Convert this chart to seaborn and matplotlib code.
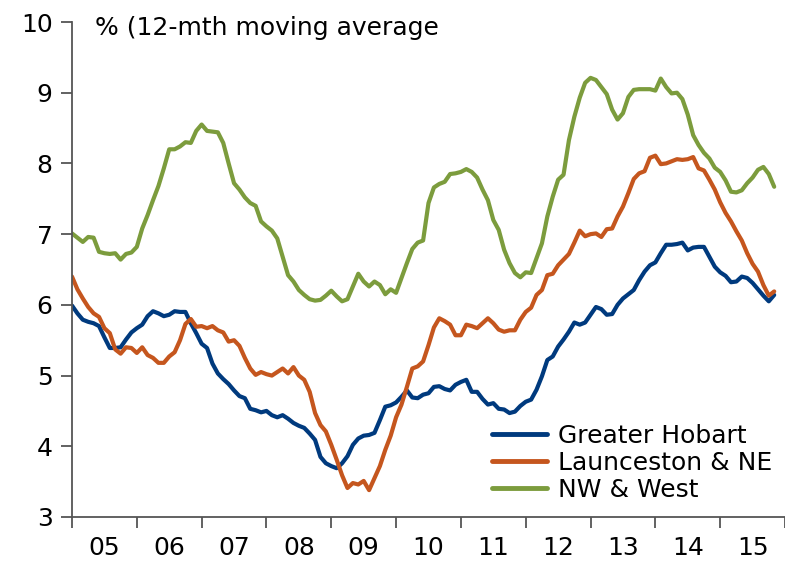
import numpy as np
import pandas as pd
import matplotlib
matplotlib.use("Agg")
import matplotlib.pyplot as plt
import seaborn as sns

# Monthly 12-month moving average unemployment rate (%), Jan 2005 - Nov 2015
start_year = 2005
hobart = [5.99, 5.88, 5.79, 5.76, 5.74, 5.70, 5.54, 5.39, 5.39, 5.40, 5.51, 5.61,
          5.67, 5.72, 5.84, 5.91, 5.88, 5.84, 5.86, 5.91, 5.90, 5.90, 5.74, 5.60,
          5.45, 5.39, 5.17, 5.03, 4.95, 4.88, 4.79, 4.71, 4.68, 4.53, 4.51, 4.48,
          4.50, 4.44, 4.41, 4.44, 4.39, 4.33, 4.29, 4.26, 4.18, 4.09, 3.85, 3.76,
          3.72, 3.69, 3.76, 3.86, 4.02, 4.11, 4.15, 4.16, 4.19, 4.37, 4.56, 4.58,
          4.62, 4.70, 4.79, 4.69, 4.68, 4.73, 4.75, 4.84, 4.85, 4.81, 4.79, 4.87,
          4.91, 4.94, 4.77, 4.77, 4.67, 4.59, 4.61, 4.53, 4.52, 4.47, 4.49, 4.57,
          4.63, 4.66, 4.80, 4.99, 5.22, 5.27, 5.41, 5.51, 5.62, 5.75, 5.72, 5.75,
          5.86, 5.97, 5.94, 5.86, 5.87, 6.00, 6.09, 6.15, 6.21, 6.35, 6.47, 6.56,
          6.60, 6.73, 6.85, 6.85, 6.86, 6.88, 6.77, 6.81, 6.82, 6.82, 6.68, 6.54,
          6.46, 6.41, 6.32, 6.33, 6.40, 6.38, 6.31, 6.22, 6.13, 6.05, 6.14]
launceston = [6.40, 6.22, 6.09, 5.97, 5.88, 5.83, 5.67, 5.60, 5.37, 5.31, 5.40, 5.39,
              5.32, 5.40, 5.29, 5.25, 5.18, 5.18, 5.27, 5.33, 5.50, 5.73, 5.80, 5.69,
              5.70, 5.67, 5.70, 5.64, 5.61, 5.48, 5.50, 5.42, 5.25, 5.10, 5.01, 5.05,
              5.02, 5.00, 5.05, 5.10, 5.03, 5.12, 5.00, 4.94, 4.77, 4.47, 4.30, 4.21,
              4.02, 3.81, 3.59, 3.41, 3.48, 3.46, 3.51, 3.38, 3.55, 3.72, 3.95, 4.15,
              4.41, 4.59, 4.84, 5.10, 5.13, 5.20, 5.43, 5.68, 5.81, 5.77, 5.72, 5.57,
              5.57, 5.72, 5.70, 5.67, 5.74, 5.81, 5.74, 5.65, 5.62, 5.64, 5.64, 5.79,
              5.90, 5.96, 6.14, 6.21, 6.42, 6.44, 6.56, 6.64, 6.72, 6.88, 7.05, 6.97,
              7.00, 7.01, 6.96, 7.07, 7.08, 7.25, 7.39, 7.58, 7.78, 7.86, 7.89, 8.08,
              8.11, 7.99, 8.00, 8.03, 8.06, 8.05, 8.06, 8.09, 7.93, 7.90, 7.77, 7.63,
              7.45, 7.30, 7.18, 7.04, 6.91, 6.73, 6.58, 6.47, 6.28, 6.13, 6.19]
nw_west = [7.01, 6.95, 6.89, 6.96, 6.95, 6.75, 6.73, 6.72, 6.73, 6.64, 6.72, 6.74,
           6.82, 7.08, 7.27, 7.48, 7.68, 7.93, 8.20, 8.20, 8.24, 8.30, 8.29, 8.46,
           8.55, 8.46, 8.45, 8.44, 8.29, 8.00, 7.72, 7.63, 7.52, 7.44, 7.40, 7.18,
           7.11, 7.05, 6.94, 6.68, 6.42, 6.33, 6.21, 6.14, 6.08, 6.06, 6.07, 6.13,
           6.20, 6.12, 6.05, 6.08, 6.26, 6.44, 6.33, 6.26, 6.33, 6.28, 6.15, 6.22,
           6.17, 6.38, 6.59, 6.79, 6.88, 6.91, 7.44, 7.66, 7.71, 7.74, 7.85, 7.86,
           7.88, 7.92, 7.88, 7.80, 7.63, 7.48, 7.20, 7.06, 6.78, 6.59, 6.45, 6.39,
           6.46, 6.45, 6.66, 6.87, 7.25, 7.53, 7.77, 7.84, 8.33, 8.66, 8.93, 9.14,
           9.21, 9.18, 9.08, 8.98, 8.76, 8.62, 8.71, 8.94, 9.04, 9.05, 9.05, 9.05,
           9.03, 9.20, 9.08, 8.99, 9.00, 8.91, 8.69, 8.40, 8.26, 8.15, 8.07, 7.94,
           7.88, 7.76, 7.60, 7.59, 7.62, 7.72, 7.80, 7.91, 7.95, 7.85, 7.67]

series_names = ["Greater Hobart", "Launceston & NE", "NW & West"]
colors = ["#003A7E", "#C5561E", "#7C9C3D"]
year_labels = ["05", "06", "07", "08", "09", "10", "11", "12", "13", "14", "15"]
y_ticks = [3, 4, 5, 6, 7, 8, 9, 10]
title_text = "% (12-mth moving average"

n = len(hobart)
t = start_year + np.arange(n) / 12.0
df = pd.concat([
    pd.DataFrame({"t": t, "value": vals, "region": name})
    for name, vals in zip(series_names, [hobart, launceston, nw_west])
], ignore_index=True)

sns.set_theme(style="white")
plt.rcParams["font.family"] = ["DejaVu Sans"]
plt.rcParams["text.color"] = "#000000"
plt.rcParams["xtick.color"] = "#000000"
plt.rcParams["ytick.color"] = "#000000"

FS = 18

fig = plt.figure(figsize=(7.85, 5.69), dpi=100)
ax = fig.add_axes([72 / 785, 1 - 517 / 569, (785 - 72) / 785, (517 - 22) / 569])

sns.lineplot(data=df, x="t", y="value", hue="region", hue_order=series_names,
             palette=dict(zip(series_names, colors)), linewidth=3.0, ax=ax,
             estimator=None, sort=False)

ax.set_xlim(2005.0, 2005.0 + (785 - 72) / 65.0)
ax.set_ylim(3, 10)
ax.set_yticks(y_ticks)
ax.set_yticklabels([str(v) for v in y_ticks], fontsize=FS)

years = np.arange(start_year, start_year + len(year_labels) + 1)
ax.set_xticks(years)
ax.set_xticklabels([])
ax.set_xticks(years[:-1] + 0.5, minor=True)
ax.set_xticklabels(year_labels, minor=True, fontsize=FS)
ax.tick_params(axis="x", which="minor", length=0, pad=14)
ax.tick_params(axis="x", which="major", direction="out", length=8, width=1.3,
               color="#555555", bottom=True)
ax.tick_params(axis="y", direction="out", length=8, width=1.3, color="#555555",
               left=True, pad=6)

ax.set_xlabel("")
ax.set_ylabel("")
sns.despine(ax=ax)
for s in ["left", "bottom"]:
    ax.spines[s].set_color("#555555")
    ax.spines[s].set_linewidth(1.3)

fig.text(95 / 785, 1 - 28 / 569, title_text, fontsize=FS, ha="left", va="center",
         color="#000000")

handles, labels = ax.get_legend_handles_labels()
leg = ax.legend(handles, labels, loc="lower right", bbox_to_anchor=(1.0, 0.005),
                frameon=False, fontsize=FS, handlelength=2.2, handletextpad=0.45,
                labelspacing=0.12, borderaxespad=0.1)
for h in leg.get_lines():
    h.set_linewidth(3.5)
    h.set_solid_capstyle("round")

fig.savefig("out.png", dpi=100)
